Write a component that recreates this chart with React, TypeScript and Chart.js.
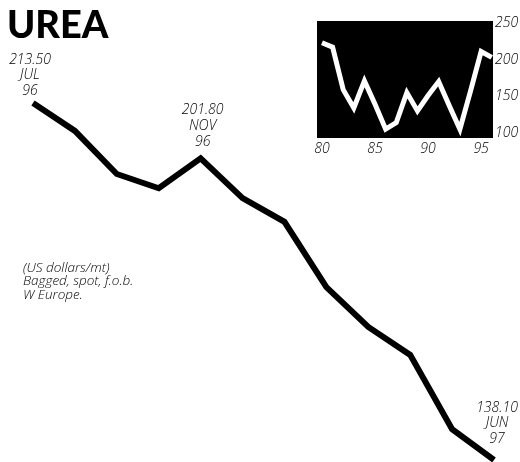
import React, { useEffect, useRef } from "react";
import { Chart, registerables } from "chart.js";

Chart.register(...registerables);

// Main series: monthly urea price, Jul 96 – Jun 97 (US$/mt)
const months = ["JUL", "AUG", "SEP", "OCT", "NOV", "DEC", "JAN", "FEB", "MAR", "APR", "MAY", "JUN"];
const monthYears = ["96", "96", "96", "96", "96", "96", "97", "97", "97", "97", "97", "97"];
const prices = [213.5, 207.6, 198.5, 195.5, 201.8, 193.4, 188.4, 174.6, 166.2, 160.3, 144.6, 138.1];
const labelledIndexes = [0, 4, 11];

// Inset: annual series 1980–1996
const insetYears = [80, 81, 82, 83, 84, 85, 86, 87, 88, 89, 90, 91, 92, 93, 94, 95, 96];
const insetPrices = [223, 217, 159, 134, 171, 139, 105, 114, 155, 130, 151, 170, 137, 105, 157, 211, 203];
const insetXTicks = [80, 85, 90, 95];
const insetYTicks = [100, 150, 200, 250];

const noteLines = ["(US dollars/mt)", "Bagged, spot, f.o.b.", "W Europe."];
const title = "UREA";

const FAMILY = "'Open Sans', Lato, sans-serif";
const ITALIC = `italic 300 14px ${FAMILY}`;

export default function App() {
  const mainRef = useRef<HTMLCanvasElement>(null);
  const insetRef = useRef<HTMLCanvasElement>(null);

  useEffect(() => {
    const labelStyle: Record<number, { dx: number; lastDy: number; gap: number }> = {
      0: { dx: -3, lastDy: -12, gap: 15.5 },
      4: { dx: 2, lastDy: -16, gap: 16 },
      11: { dx: 3, lastDy: -21, gap: 15.5 },
    };

    const textPlugin = {
      id: "texts",
      afterDraw(chart: any) {
        const ctx = chart.ctx;
        const xs = chart.scales.x;
        const ys = chart.scales.y;
        ctx.save();
        ctx.fillStyle = "#000";
        // title
        ctx.font = "900 38px Lato, sans-serif";
        ctx.textAlign = "left";
        ctx.textBaseline = "alphabetic";
        ctx.fillText(title, 7, 38);
        // point labels
        ctx.font = ITALIC;
        ctx.textAlign = "center";
        ctx.textBaseline = "middle";
        labelledIndexes.forEach((i) => {
          const st = labelStyle[i];
          const px = xs.getPixelForValue(i) + st.dx;
          const py = ys.getPixelForValue(prices[i]);
          const lines = [prices[i].toFixed(2), months[i], monthYears[i]];
          lines.forEach((t, k) => {
            ctx.fillText(t, px, py + st.lastDy - (2 - k) * st.gap);
          });
        });
        // note
        ctx.font = `italic 300 13.5px ${FAMILY}`;
        ctx.textAlign = "left";
        noteLines.forEach((t, k) => {
          ctx.fillText(t, 23, 268 + k * 13.5);
        });
        ctx.restore();
      },
    };

    const main = new Chart(mainRef.current!, {
      type: "line",
      data: {
        labels: months,
        datasets: [
          {
            data: prices.map((v, i) => ({ x: i, y: v })),
            borderColor: "#000",
            borderWidth: 6,
            borderJoinStyle: "miter",
            pointRadius: 0,
            tension: 0,
            clip: false as any,
          },
        ],
      },
      options: {
        animation: false,
        responsive: false,
        maintainAspectRatio: false,
        layout: { padding: 0 },
        plugins: { legend: { display: false }, tooltip: { enabled: false } },
        scales: {
          x: { type: "linear", display: false, min: -0.787, max: 11.62 },
          y: { type: "linear", display: false, min: 137.68, max: 235.25 },
        },
      },
      plugins: [textPlugin],
    });

    const bgPlugin = {
      id: "blackbg",
      beforeDatasetsDraw(chart: any) {
        const { ctx, chartArea } = chart;
        ctx.save();
        ctx.fillStyle = "#000";
        ctx.fillRect(chartArea.left, chartArea.top, chartArea.right - chartArea.left, chartArea.bottom - chartArea.top);
        ctx.restore();
      },
    };

    const tickFont = { family: FAMILY, size: 14, style: "italic", weight: "300" as any };

    const inset = new Chart(insetRef.current!, {
      type: "line",
      data: {
        labels: insetYears.map(String),
        datasets: [
          {
            data: insetYears.map((y, i) => ({ x: y, y: insetPrices[i] })),
            borderColor: "#fff",
            borderWidth: 5,
            borderJoinStyle: "miter",
            pointRadius: 0,
            tension: 0,
          },
        ],
      },
      options: {
        animation: false,
        responsive: false,
        maintainAspectRatio: false,
        layout: { padding: { left: 17, top: 11, right: 0, bottom: 0 } },
        plugins: { legend: { display: false }, tooltip: { enabled: false } },
        scales: {
          x: {
            type: "linear",
            min: 79.53,
            max: 96.12,
            grid: { display: false, drawTicks: false },
            border: { display: false },
            afterBuildTicks: (s: any) => {
              s.ticks = insetXTicks.map((v) => ({ value: v }));
            },
            afterFit: (s: any) => {
              s.height = 22;
            },
            ticks: {
              color: "#000",
              padding: 3,
              maxRotation: 0,
              autoSkip: false,
              font: tickFont as any,
              callback: (v: any) => String(v),
            },
          },
          y: {
            type: "linear",
            position: "right",
            min: 93,
            max: 252.7,
            grid: { display: false, drawTicks: false },
            border: { display: false },
            afterBuildTicks: (s: any) => {
              s.ticks = insetYTicks.map((v) => ({ value: v }));
            },
            afterFit: (s: any) => {
              s.width = 27;
            },
            ticks: {
              color: "#000",
              padding: 2,
              autoSkip: false,
              font: tickFont as any,
              callback: (v: any) => String(v),
            },
          },
        },
      },
      plugins: [bgPlugin],
    });

    return () => {
      main.destroy();
      inset.destroy();
    };
  }, []);

  return (
    <div style={{ position: "absolute", left: 0, top: 0, width: 520, height: 462, background: "#fff", overflow: "hidden" }}>
      <canvas ref={mainRef} width={520} height={462} style={{ position: "absolute", left: 0, top: 0 }} />
      <canvas ref={insetRef} width={220} height={150} style={{ position: "absolute", left: 300, top: 10 }} />
    </div>
  );
}
